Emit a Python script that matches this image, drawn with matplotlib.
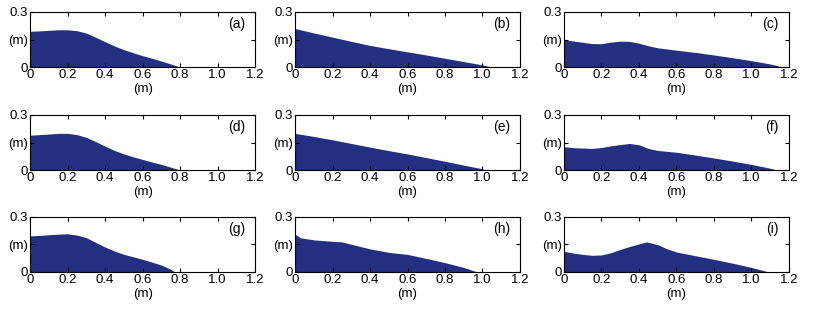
import numpy as np
import matplotlib
matplotlib.use('Agg')
import matplotlib.pyplot as plt

plt.rcParams['font.family'] = ['Liberation Sans', 'DejaVu Sans']

# surface profiles, x and height in m
a_x = [0, 0.05, 0.1, 0.15, 0.2, 0.25, 0.3, 0.35, 0.4, 0.45, 0.5, 0.55, 0.6, 0.65, 0.7, 0.75, 0.8]
a_h = [0.195, 0.197, 0.2, 0.203, 0.203, 0.198, 0.185, 0.162, 0.138, 0.115, 0.095, 0.078, 0.062, 0.048, 0.033, 0.017, 0.0]

b_x = [0, 0.1, 0.2, 0.3, 0.4, 0.5, 0.6, 0.7, 0.8, 0.9, 1.0, 1.05]
b_h = [0.21, 0.186, 0.163, 0.14, 0.118, 0.1, 0.083, 0.066, 0.048, 0.03, 0.012, 0.0]

c_x = [0, 0.05, 0.1, 0.15, 0.2, 0.25, 0.3, 0.35, 0.4, 0.45, 0.5, 0.6, 0.7, 0.8, 0.9, 1.0, 1.1, 1.17]
c_h = [0.148, 0.142, 0.135, 0.128, 0.127, 0.136, 0.141, 0.14, 0.13, 0.116, 0.105, 0.092, 0.08, 0.066, 0.051, 0.035, 0.017, 0.0]

d_x = [0, 0.05, 0.1, 0.15, 0.2, 0.25, 0.3, 0.35, 0.4, 0.45, 0.5, 0.55, 0.6, 0.65, 0.7, 0.75, 0.8]
d_h = [0.19, 0.193, 0.196, 0.2, 0.2, 0.193, 0.178, 0.155, 0.13, 0.107, 0.088, 0.072, 0.058, 0.044, 0.031, 0.016, 0.0]

e_x = [0, 0.1, 0.2, 0.3, 0.4, 0.5, 0.6, 0.7, 0.8, 0.9, 1.0, 1.02]
e_h = [0.2, 0.183, 0.165, 0.145, 0.125, 0.106, 0.088, 0.068, 0.048, 0.027, 0.007, 0.0]

f_x = [0, 0.05, 0.1, 0.15, 0.2, 0.25, 0.3, 0.35, 0.4, 0.45, 0.5, 0.6, 0.7, 0.8, 0.9, 1.0, 1.1, 1.14]
f_h = [0.127, 0.122, 0.12, 0.118, 0.123, 0.132, 0.139, 0.145, 0.138, 0.118, 0.107, 0.097, 0.082, 0.066, 0.049, 0.031, 0.01, 0.0]

g_x = [0, 0.05, 0.1, 0.15, 0.2, 0.25, 0.3, 0.35, 0.4, 0.45, 0.5, 0.55, 0.6, 0.65, 0.7, 0.75, 0.77]
g_h = [0.196, 0.198, 0.202, 0.205, 0.207, 0.2, 0.186, 0.16, 0.135, 0.113, 0.095, 0.082, 0.068, 0.053, 0.037, 0.014, 0.0]

h_x = [0, 0.03, 0.1, 0.2, 0.25, 0.3, 0.4, 0.5, 0.6, 0.7, 0.8, 0.9, 0.97]
h_h = [0.205, 0.185, 0.174, 0.166, 0.163, 0.15, 0.125, 0.106, 0.095, 0.073, 0.05, 0.024, 0.0]

i_x = [0, 0.05, 0.1, 0.15, 0.2, 0.25, 0.3, 0.35, 0.4, 0.44, 0.5, 0.55, 0.6, 0.7, 0.8, 0.9, 1.0, 1.09]
i_h = [0.112, 0.102, 0.095, 0.09, 0.092, 0.104, 0.122, 0.138, 0.152, 0.163, 0.148, 0.125, 0.108, 0.088, 0.068, 0.047, 0.024, 0.0]

panel_labels = ['(a)', '(b)', '(c)', '(d)', '(e)', '(f)', '(g)', '(h)', '(i)']
profiles = [(a_x, a_h), (b_x, b_h), (c_x, c_h),
            (d_x, d_h), (e_x, e_h), (f_x, f_h),
            (g_x, g_h), (h_x, h_h), (i_x, i_h)]

x_ticks = [0, 0.2, 0.4, 0.6, 0.8, 1.0, 1.2]
x_ticklabels = ['0', '0.2', '0.4', '0.6', '0.8', '1.0', '1.2']
y_ticks = [0, 0.15, 0.3]
y_ticklabels = ['0', '(m)', '0.3']

fill_col = '#232f80'

fig = plt.figure(figsize=(8.15, 3.15), dpi=100)

lefts = [0.037, 0.362, 0.692]
bottoms = [0.787, 0.460, 0.137]
w, h = 0.276, 0.175

for k, ((px, ph), lab) in enumerate(zip(profiles, panel_labels)):
    r, c = divmod(k, 3)
    ax = fig.add_axes([lefts[c], bottoms[r], w, h])
    ax.fill_between(px, 0, ph, color=fill_col, lw=0)
    ax.set_xlim(0, 1.2)
    ax.set_ylim(0, 0.3)
    ax.set_xticks(x_ticks)
    ax.set_xticklabels(x_ticklabels)
    ax.set_yticks(y_ticks)
    ax.set_yticklabels(y_ticklabels)
    ax.tick_params(direction='in', top=True, right=True, length=3, width=0.8,
                   labelsize=9.5, pad=1.5)
    for s in ax.spines.values():
        s.set_linewidth(0.8)
    ax.set_xlabel('(m)', fontsize=9.5, labelpad=1.5)
    ax.text(0.955, 0.78, lab, transform=ax.transAxes, ha='right', va='center',
            fontsize=10)

fig.savefig('out.png', dpi=100)
